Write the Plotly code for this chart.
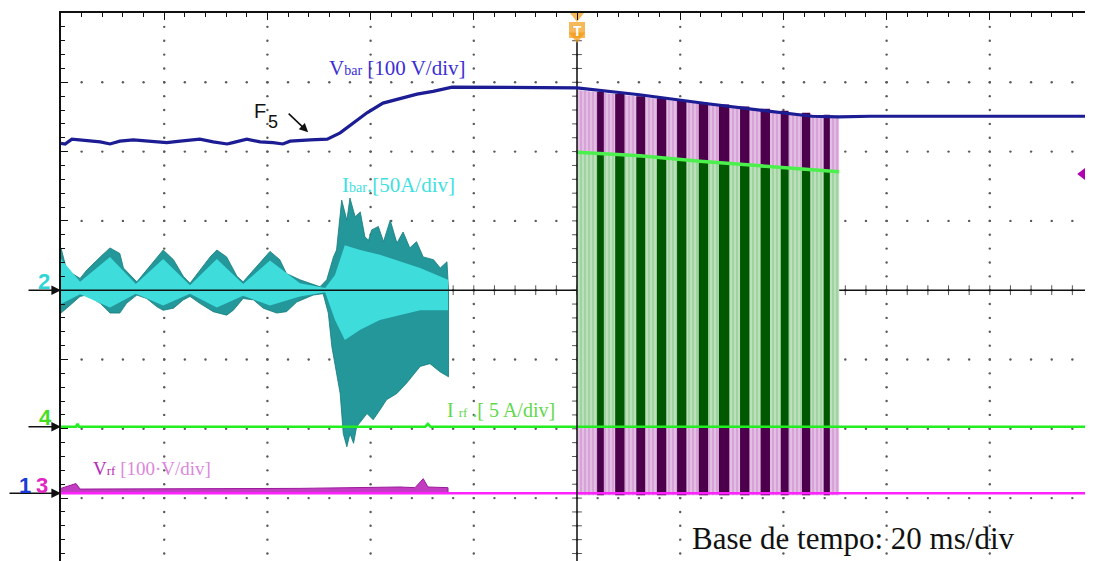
import numpy as np
import plotly.graph_objects as go

# ---- data (time in ms, 20 ms/div; amplitude in screen divisions) ----
vbar_t = [0, 0.8, 2.1, 5.0, 7.6, 9.5, 11.4, 14.0, 16.7, 19.2, 20.5, 23.1, 26.9, 29.5, 32.2, 33.3,
          36.0, 38.6, 41.1, 43.0, 44.4, 48.3, 51.6, 54.1, 56.6, 59.3, 62.4, 65.7, 69.0, 72.1, 75.8,
          100.0, 112.1, 125.3, 138.5, 145.5, 150.8, 156.8, 172.3, 200]
vbar_y = [2.12, 2.11, 2.18, 2.16, 2.14, 2.11, 2.15, 2.17, 2.15, 2.14, 2.13, 2.15, 2.18, 2.14, 2.11, 2.13,
          2.18, 2.14, 2.13, 2.11, 2.15, 2.17, 2.18, 2.27, 2.41, 2.56, 2.70, 2.77, 2.83, 2.87, 2.93,
          2.92, 2.82, 2.69, 2.57, 2.51, 2.50, 2.51, 2.51, 2.51]

ibar_up_t = [0, 1.1, 3.7, 5.0, 7.6, 9.5, 11.4, 12.1, 14.7, 16.6, 18.6, 19.8, 21.8, 23.7, 25.0, 26.9,
             28.9, 30.2, 32.1, 34.1, 35.3, 37.3, 39.2, 40.5, 42.4, 43.7, 46.3, 50.2, 51.5, 52.8, 53.4,
             54.4, 55.4, 56.0, 57.0, 58.0, 58.9, 59.6, 60.2, 61.5, 62.5, 63.8, 65.1, 66.3, 67.6, 68.9,
             70.2, 72.2, 73.5, 74.8, 75.1]
ibar_up_y = [0.61, 0.29, 0.17, 0.29, 0.48, 0.61, 0.53, 0.32, 0.12, 0.29, 0.48, 0.58, 0.44, 0.20, 0.10, 0.29,
             0.48, 0.58, 0.48, 0.20, 0.12, 0.29, 0.46, 0.56, 0.44, 0.24, 0.15, 0.05, 0.15, 0.48, 0.58,
             1.30, 1.01, 1.33, 1.06, 1.13, 0.77, 0.72, 0.87, 0.92, 0.70, 1.01, 0.68, 0.84, 0.61, 0.70,
             0.48, 0.44, 0.32, 0.41, 0.00]
ibar_lo_t = [0, 1.1, 3.7, 5.0, 7.6, 9.5, 11.4, 12.7, 14.7, 16.6, 18.6, 19.8, 21.8, 23.7, 25.0, 26.9,
             29.5, 32.1, 33.4, 35.3, 37.3, 39.2, 41.8, 43.7, 45.7, 48.9, 50.8, 51.8, 52.5, 53.1, 54.1,
             54.7, 55.4, 56.0, 56.7, 57.3, 58.3, 59.3, 60.5, 61.8, 63.1, 65.1, 67.0, 69.6, 71.5, 73.5, 75.1]
ibar_lo_y = [-0.33, -0.26, -0.09, -0.07, -0.19, -0.33, -0.33, -0.19, -0.07, -0.12, -0.24, -0.29, -0.26, -0.14, -0.09, -0.19,
             -0.31, -0.36, -0.29, -0.12, -0.14, -0.26, -0.33, -0.31, -0.17, -0.07, -0.05, -0.33, -0.82, -1.10, -1.49,
             -2.07, -2.26, -2.07, -2.21, -1.97, -1.87, -1.78, -1.87, -1.73, -1.58, -1.49, -1.34, -1.10, -1.06, -1.18, -1.25]
ibar_in_t = [0, 3.7, 9.5, 14.5, 19.8, 25.0, 30.2, 35.3, 40.5, 46.3, 51.2, 53.1, 55.0, 58.0, 61.8, 65.7, 69.6, 75.0]
ibar_in_up = [0.45, 0.12, 0.48, 0.09, 0.45, 0.07, 0.45, 0.09, 0.43, 0.10, 0.03, 0.22, 0.65, 0.58, 0.51, 0.41, 0.32, 0.15]
ibar_in_lo = [-0.20, -0.06, -0.25, -0.05, -0.22, -0.05, -0.25, -0.08, -0.22, -0.09, -0.03, -0.43, -0.72, -0.57, -0.43, -0.36, -0.29, -0.29]

irf_gnd = -1.97
irf_left_t = [0, 2.9, 3.2, 3.5, 70.6, 71.1, 71.6, 200]
irf_left_y = [-1.97, -1.97, -1.93, -1.97, -1.97, -1.93, -1.97, -1.97]
irf_top_t = [100.0, 112.2, 123.8, 137.4, 150.8]
irf_top_y = [1.99, 1.94, 1.86, 1.78, 1.71]

vrf_gnd = -2.93
vrf_left_t = [0, 2.9, 3.7, 11.4, 19.2, 26.9, 36.6, 46.3, 56.0, 65.7, 68.6, 70.2, 71.1, 73.4, 75.0]
vrf_left_y = [-2.86, -2.79, -2.87, -2.87, -2.86, -2.87, -2.86, -2.86, -2.85, -2.84, -2.85, -2.72, -2.84, -2.84, -2.85]
vrf_top_t = [100.0, 112.2, 123.8, 137.4, 150.8]
vrf_top_y = [2.89, 2.79, 2.69, 2.59, 2.50]

burst_start = [103.9, 107.4, 111.5, 115.5, 119.4, 123.6, 127.5, 131.6, 135.6, 139.5, 143.6, 147.8]
burst_end = [105.2, 109.2, 113.2, 117.3, 121.2, 125.4, 129.5, 133.4, 137.4, 141.0, 145.2, 149.0]
irf_block_top = [1.96, 1.94, 1.92, 1.90, 1.87, 1.84, 1.82, 1.80, 1.77, 1.75, 1.73, 1.71]
vrf_block_top = [2.86, 2.83, 2.80, 2.77, 2.74, 2.71, 2.68, 2.65, 2.62, 2.59, 2.56, 2.53]

ref_marker_t = 198.4
ref_marker_y = 1.677
trigger_t = 100.0
Y_MIN, Y_MAX = -3.908, 4.0

fig = go.Figure()

# ---- graticule dots ----
gx, gy = [], []
for k in range(1, 10):
    for v in np.arange(-3.8, 3.9, 0.2):
        gx.append(k * 20); gy.append(round(v, 2))
for j in range(-3, 4):
    for t in np.arange(4, 200, 4):
        gx.append(t); gy.append(j)
fig.add_trace(go.Scatter(x=gx, y=gy, mode="markers", hoverinfo="skip",
                         marker=dict(size=2.4, color="#5a5a5a", line=dict(width=0))))
# centre-axis ticks
cy = [round(v, 2) for v in np.arange(-3.8, 4.0, 0.2)]
fig.add_trace(go.Scatter(x=[trigger_t] * len(cy), y=cy, mode="markers", hoverinfo="skip",
                         marker=dict(symbol="line-ew", size=7, line=dict(width=1, color="#555"))))
cx = list(np.arange(4, 200, 4))
fig.add_trace(go.Scatter(x=cx, y=[0] * len(cx), mode="markers", hoverinfo="skip",
                         marker=dict(symbol="line-ns", size=7, line=dict(width=1, color="#555"))))

# ---- Ibar (cyan) ----
fig.add_trace(go.Scatter(x=ibar_up_t + ibar_lo_t[::-1], y=ibar_up_y + ibar_lo_y[::-1],
                         fill="toself", mode="lines", line=dict(width=0.8, color="#157b7b"),
                         fillcolor="#23979a", hoverinfo="skip"))
fig.add_trace(go.Scatter(x=ibar_in_t + ibar_in_t[::-1], y=ibar_in_up + ibar_in_lo[::-1],
                         fill="toself", mode="lines", line=dict(width=0),
                         fillcolor="#3fdcdc", hoverinfo="skip"))
fig.add_trace(go.Scatter(x=[0, 200], y=[0, 0], mode="lines",
                         line=dict(width=1.6, color="#111"), hoverinfo="skip"))

# ---- Vrf PWM burst (purple) ----
fig.add_trace(go.Scatter(x=[trigger_t] + vrf_top_t + [vrf_top_t[-1]],
                         y=[-2.96] + vrf_top_y + [-2.96], fill="toself", mode="lines",
                         line=dict(width=0), fillcolor="#dba8db",
                         fillpattern=dict(shape="|", size=4, solidity=0.3, fgcolor="white", bgcolor="#d7a2d7"),
                         hoverinfo="skip"))
bx, by = [], []
for s, e, h in zip(burst_start, burst_end, vrf_block_top):
    bx += [s, s, e, e, s, None]; by += [-2.96, h, h, -2.96, -2.96, None]
fig.add_trace(go.Scatter(x=bx, y=by, fill="toself", mode="lines", line=dict(width=0),
                         fillcolor="#4c004c", hoverinfo="skip"))

# ---- Irf PWM burst (green) ----
fig.add_trace(go.Scatter(x=[trigger_t] + irf_top_t + [irf_top_t[-1]],
                         y=[irf_gnd] + irf_top_y + [irf_gnd], fill="toself", mode="lines",
                         line=dict(width=0), fillcolor="#a3d6a3",
                         fillpattern=dict(shape="|", size=4, solidity=0.3, fgcolor="white", bgcolor="#9fd39f"),
                         hoverinfo="skip"))
bx, by = [], []
for s, e, h in zip(burst_start, burst_end, irf_block_top):
    bx += [s, s, e, e, s, None]; by += [irf_gnd, h, h, irf_gnd, irf_gnd, None]
fig.add_trace(go.Scatter(x=bx, y=by, fill="toself", mode="lines", line=dict(width=0),
                         fillcolor="#005800", hoverinfo="skip"))
fig.add_trace(go.Scatter(x=irf_top_t, y=irf_top_y, mode="lines",
                         line=dict(width=3.5, color="#4cf04c"), hoverinfo="skip"))

# ---- ground level traces ----
fig.add_trace(go.Scatter(x=irf_left_t, y=irf_left_y, mode="lines",
                         line=dict(width=2.6, color="#22ee22"), hoverinfo="skip"))
fig.add_trace(go.Scatter(x=vrf_left_t + [vrf_left_t[-1], 0], y=vrf_left_y + [vrf_gnd, vrf_gnd],
                         fill="toself", mode="lines", line=dict(width=1, color="#9a1a9a"),
                         fillcolor="#c23cc2", hoverinfo="skip"))
fig.add_trace(go.Scatter(x=[0, 200], y=[vrf_gnd, vrf_gnd], mode="lines",
                         line=dict(width=2.6, color="#ff22ff"), hoverinfo="skip"))

# trigger line
fig.add_trace(go.Scatter(x=[trigger_t, trigger_t], y=[3.58, Y_MIN], mode="lines",
                         line=dict(width=1.6, color="#1a1a1a"), hoverinfo="skip"))

# ---- Vbar (navy) ----
fig.add_trace(go.Scatter(x=vbar_t, y=vbar_y, mode="lines",
                         line=dict(width=3.2, color="#1c1c94"), hoverinfo="skip"))

# trigger marker
fig.add_trace(go.Scatter(x=[trigger_t, trigger_t, trigger_t], y=[3.957, 3.755, 3.668], mode="markers",
                         cliponaxis=False, hoverinfo="skip",
                         marker=dict(symbol=["triangle-down", "square", "triangle-down"], size=[12, 16, 14],
                                     color="#f39a12", line=dict(width=0))))

# reference marker on the right edge (magenta arrow)
fig.add_trace(go.Scatter(x=[ref_marker_t, 200], y=[ref_marker_y, ref_marker_y], mode="lines",
                         line=dict(width=4, color="#b000b0"), hoverinfo="skip"))
fig.add_trace(go.Scatter(x=[ref_marker_t], y=[ref_marker_y], mode="markers", cliponaxis=False,
                         marker=dict(symbol="triangle-left", size=15, color="#b000b0", line=dict(width=0)),
                         hoverinfo="skip"))

serif = "Liberation Serif"
ann = []
ann.append(dict(x=trigger_t, y=3.74, text="<b>T</b>", showarrow=False,
                font=dict(family="Liberation Sans", size=14, color="white")))
ann.append(dict(x=51.5, y=3.206, xanchor="left", yanchor="middle", showarrow=False,
                text="V<span style='font-size:14px'>bar</span> [100 V/div]",
                font=dict(family=serif, size=21, color="#3b2fd4")))
ann.append(dict(x=54.1, y=1.52, xanchor="left", yanchor="middle", showarrow=False,
                text="I<span style='font-size:14px'>bar</span>.[50A/div]",
                font=dict(family=serif, size=21, color="#3fe0e0")))
ann.append(dict(x=74.4, y=-1.73, xanchor="left", yanchor="middle", showarrow=False,
                text="I <span style='font-size:13px'>rf</span> .[ 5 A/div]",
                font=dict(family=serif, size=20, color="#5fd84a")))
ann.append(dict(x=5.8, y=-2.57, xanchor="left", yanchor="middle", showarrow=False,
                text="<span style='color:#b62bb6'>V<span style='font-size:13px'>rf</span></span> [100·V/div]",
                font=dict(family=serif, size=19, color="#dc88dc")))
ann.append(dict(x=121.9, y=-3.59, xanchor="left", yanchor="middle", showarrow=False,
                text="Base de tempo: 20 ms/div",
                font=dict(family=serif, size=31, color="#111")))
ann.append(dict(x=38.6, y=2.59, xanchor="center", yanchor="middle", showarrow=False, text="F",
                font=dict(family="Liberation Sans", size=20, color="#111")))
ann.append(dict(x=41.0, y=2.42, xanchor="center", yanchor="middle", showarrow=False, text="5",
                font=dict(family="Liberation Sans", size=18, color="#111")))
ann.append(dict(x=47.9, y=2.28, ax=-21, ay=-20, text="", showarrow=True, arrowhead=2,
                arrowsize=1.1, arrowwidth=1.6, arrowcolor="#111"))
# channel ground markers
for yv, axo in [(0.0, -34), (irf_gnd, -34), (vrf_gnd, -54)]:
    ann.append(dict(x=0, y=yv, ax=axo, ay=0, text="", showarrow=True, arrowhead=2,
                    arrowsize=1.2, arrowwidth=1.6, arrowcolor="#111"))
for txt, xp, yv, col in [("2", -0.0245, 0.12, "#2fd6d6"), ("4", -0.0235, -1.84, "#47dd22"),
                         ("1", -0.0425, -2.82, "#1c3bd6"), ("3", -0.0262, -2.82, "#e324c4")]:
    ann.append(dict(x=xp, xref="paper", y=yv, yref="y", text="<b>" + txt + "</b>", showarrow=False,
                    font=dict(family="Liberation Sans", size=22, color=col)))

# page body adds an 8px offset, so the figure is 8px smaller to fill the window exactly
fig.update_layout(
    width=1085, height=553, margin=dict(l=53, r=0, t=5, b=0),
    paper_bgcolor="white", plot_bgcolor="white", showlegend=False,
    annotations=ann,
    xaxis=dict(range=[0, 200], side="top", showline=True, linecolor="#111", linewidth=1.5,
               ticks="inside", tick0=0, dtick=20, ticklen=7, tickcolor="#111",
               minor=dict(dtick=4, ticklen=4, ticks="inside", tickcolor="#111"),
               showticklabels=False, showgrid=False, zeroline=False, fixedrange=True),
    yaxis=dict(range=[Y_MIN, Y_MAX], showline=True, linecolor="#111", linewidth=1.5,
               ticks="inside", tick0=0, dtick=1, ticklen=7, tickcolor="#111",
               minor=dict(dtick=0.2, ticklen=4, ticks="inside", tickcolor="#111"),
               showticklabels=False, showgrid=False, zeroline=False, fixedrange=True),
)
fig.write_html("out.html")
